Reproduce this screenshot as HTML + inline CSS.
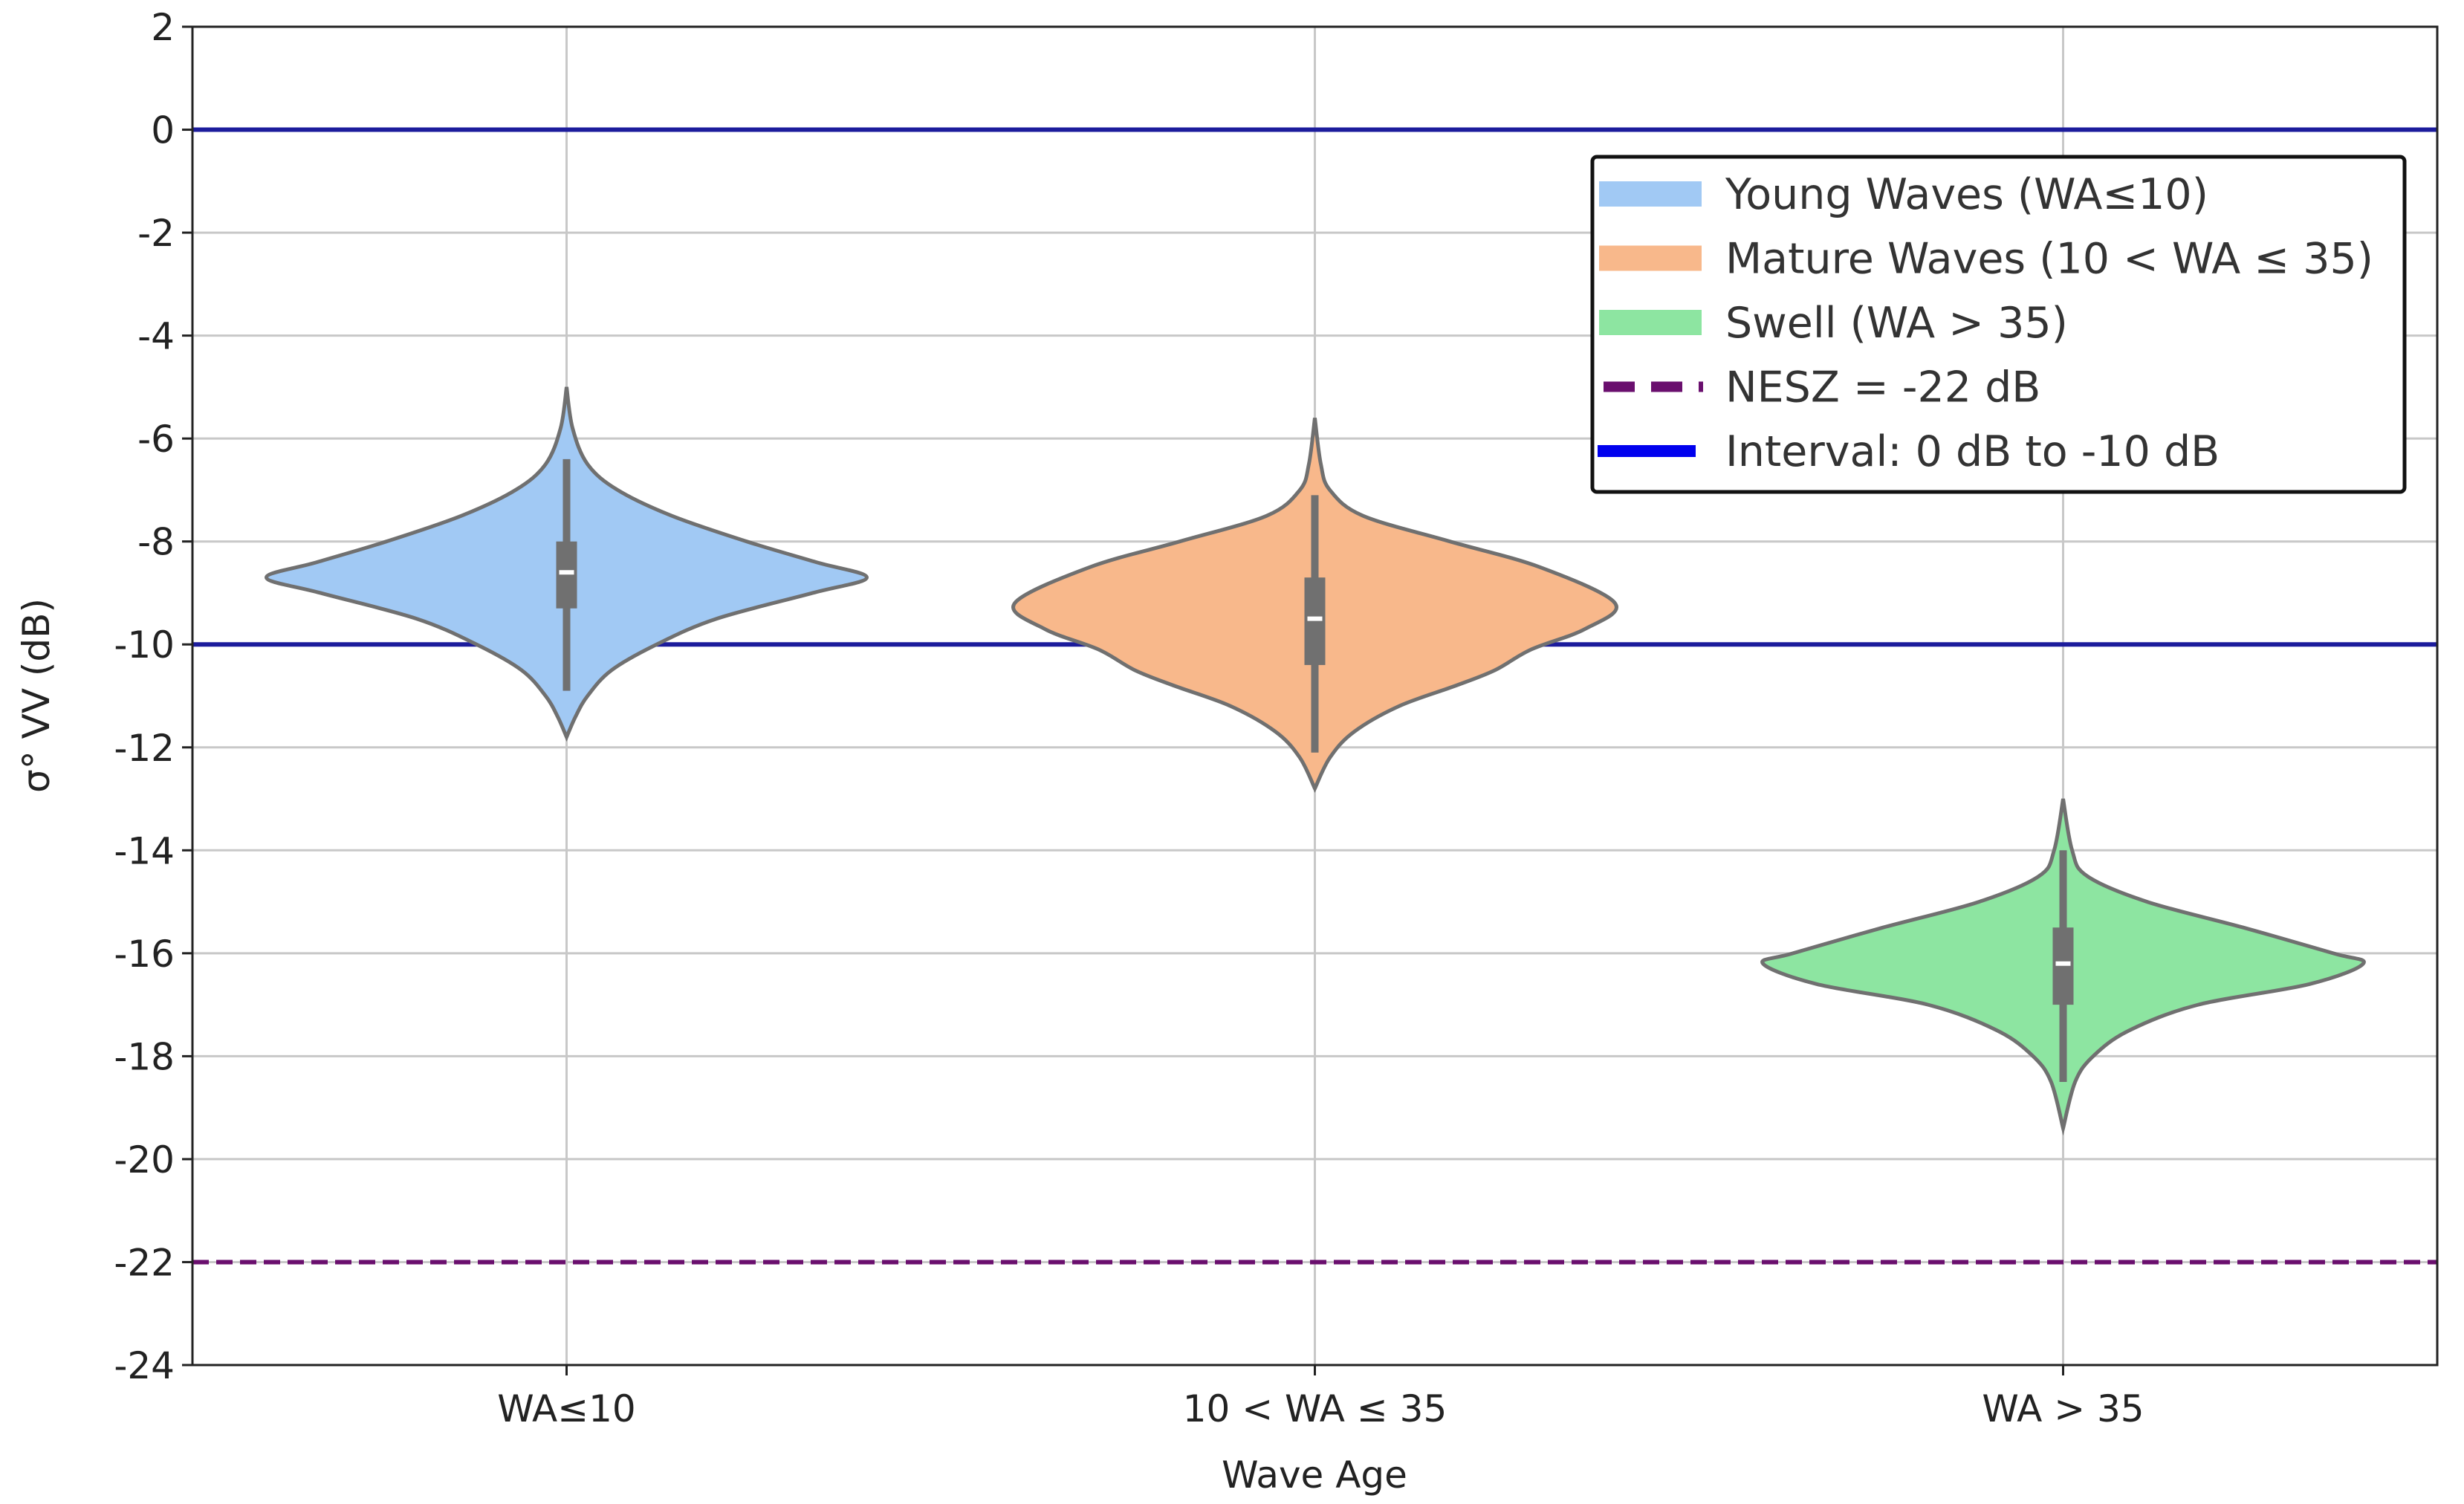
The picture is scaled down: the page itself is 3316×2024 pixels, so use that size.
<!DOCTYPE html>
<html><head><meta charset="utf-8"><style>
html,body{margin:0;padding:0;background:#fff;}
svg{display:block;font-family:"DejaVu Sans","Liberation Sans",sans-serif;}
</style></head><body>
<svg id="chart" width="3316" height="2024" viewBox="0 0 3316 2024" xmlns="http://www.w3.org/2000/svg">
<g id="grid"></g>
<g id="refs"></g>
<g id="violins"></g>
<rect x="259" y="36" width="3021" height="1801" fill="none" stroke="#222" stroke-width="3"/>
<g id="axes"></g>
<text x="1769" y="2002" font-size="50" text-anchor="middle" fill="#222">Wave Age</text>
<text transform="translate(66,936) rotate(-90)" font-size="50" text-anchor="middle" fill="#222">σ° VV (dB)</text>
<g id="legend">
<rect x="2143" y="211" width="1093" height="451" rx="6" fill="#fff" stroke="#111" stroke-width="5"/>
</g>
</svg>
<script>
const categories = ["WA≤10", "10 < WA ≤ 35", "WA > 35"];
const yTicks = [2,0,-2,-4,-6,-8,-10,-12,-14,-16,-18,-20,-22,-24];
const youngVals = [-5.0,-5.8,-6.5,-7.0,-7.5,-8.0,-8.4,-8.7,-9.0,-9.5,-10.0,-10.5,-11.0,-11.4,-11.8];
const youngDens = [0,0.02,0.07,0.17,0.35,0.6,0.83,1.0,0.82,0.5,0.3,0.15,0.07,0.03,0];
const matureVals = [-5.6,-6.5,-7.0,-7.5,-8.0,-8.5,-9.2,-9.7,-10.1,-10.5,-10.8,-11.2,-11.7,-12.2,-12.8];
const matureDens = [0,0.02,0.05,0.16,0.45,0.75,1.0,0.9,0.72,0.6,0.47,0.28,0.13,0.05,0];
const swellVals = [-13.0,-14.0,-14.5,-15.0,-15.5,-16.0,-16.2,-16.6,-17.0,-17.5,-18.0,-18.5,-19.4];
const swellDens = [0,0.03,0.08,0.28,0.6,0.9,1.0,0.82,0.45,0.22,0.1,0.04,0];
const q1 = [-8.0,-8.7,-15.5];
const q3 = [-9.3,-10.4,-17.0];
const medians = [-8.6,-9.5,-16.2];
const whiskTop = [-6.4,-7.1,-14.0];
const whiskBot = [-10.9,-12.1,-18.5];
const refLines = [0,-10];
const neszLine = -22;

const NS="http://www.w3.org/2000/svg";
const L=259,R=3280,T=36,B=1837,YMAX=2,YMIN=-24;
const yS=v=>T+(YMAX-v)/(YMAX-YMIN)*(B-T);
const band=(R-L)/categories.length;
const xS=i=>L+band*(i+0.5);
const HALF=404;
function mk(tag,attrs,parent){const e=document.createElementNS(NS,tag);for(const k in attrs)e.setAttribute(k,attrs[k]);parent.appendChild(e);return e;}
const grid=document.getElementById('grid'),axes=document.getElementById('axes'),refs=document.getElementById('refs'),vg=document.getElementById('violins'),lg=document.getElementById('legend');

yTicks.forEach(v=>{
  const y=yS(v);
  const g=mk('line',{x1:L,x2:R,y1:y,y2:y,stroke:'#c8c8c8','stroke-width':3},grid);
  
  
  const t=mk('line',{x1:L-14,x2:L,y1:y,y2:y,stroke:'#222','stroke-width':3},axes);
  
  
  const tx=mk('text',{x:L-24,y:y+18,'font-size':50,'text-anchor':'end',fill:'#222'},axes);
  tx.textContent=String(v);
  
  
});
categories.forEach((c,i)=>{
  const x=xS(i);
  const g=mk('line',{x1:x,x2:x,y1:T,y2:B,stroke:'#c8c8c8','stroke-width':3},grid);
  
  
  const t=mk('line',{x1:x,x2:x,y1:B,y2:B+14,stroke:'#222','stroke-width':3},axes);
  
  
  const tx=mk('text',{x:x,y:B+76,'font-size':50,'text-anchor':'middle',fill:'#222'},axes);
  tx.textContent=c;
  
  
});
refLines.forEach(v=>{
  const l=mk('line',{x1:L,x2:R,y1:yS(v),y2:yS(v),stroke:'#1c1c9c','stroke-width':6},refs);
  
  
});
const nl=mk('line',{x1:L,x2:R,y1:yS(neszLine),y2:yS(neszLine),stroke:'#6a0f6e','stroke-width':6,'stroke-dasharray':'22 10'},refs);



function smooth(pts){
  let d='M'+pts[0][0]+','+pts[0][1];
  for(let i=0;i<pts.length-1;i++){
    const p0=pts[Math.max(i-1,0)],p1=pts[i],p2=pts[i+1],p3=pts[Math.min(i+2,pts.length-1)];
    const c1=[p1[0]+(p2[0]-p0[0])/6,p1[1]+(p2[1]-p0[1])/6];
    const c2=[p2[0]-(p3[0]-p1[0])/6,p2[1]-(p3[1]-p1[1])/6];
    d+=' C'+c1[0]+','+c1[1]+' '+c2[0]+','+c2[1]+' '+p2[0]+','+p2[1];
  }
  return d;
}
const series=[[youngVals,youngDens,'#a1c9f4','violin-young'],[matureVals,matureDens,'#f8b88b','violin-mature'],[swellVals,swellDens,'#8de5a1','violin-swell']];
series.forEach(([vals,dens,col,name],i)=>{
  const cx=xS(i);
  const right=vals.map((v,k)=>[cx+dens[k]*HALF,yS(v)]);
  const left=vals.map((v,k)=>[cx-dens[k]*HALF,yS(v)]).reverse();
  const d=smooth(right)+' '+smooth(left).replace('M','L')+' Z';
  const p=mk('path',{d:d,fill:col,stroke:'#707070','stroke-width':5},vg);
  
  
  const w=mk('line',{x1:cx,x2:cx,y1:yS(whiskTop[i]),y2:yS(whiskBot[i]),stroke:'#707070','stroke-width':10},vg);
  
  
  const b=mk('rect',{x:cx-14,y:yS(q1[i]),width:28,height:yS(q3[i])-yS(q1[i]),fill:'#707070'},vg);
  
  
  const m=mk('line',{x1:cx-10,x2:cx+10,y1:yS(medians[i]),y2:yS(medians[i]),stroke:'#fff','stroke-width':6},vg);
  
  
});

const legItems=[['patch','#a1c9f4','Young Waves (WA≤10)'],['patch','#f8b88b','Mature Waves (10 < WA ≤ 35)'],['patch','#8de5a1','Swell (WA > 35)'],['dash','#6a0f6e','NESZ = -22 dB'],['line','#0000ee','Interval: 0 dB to -10 dB']];
legItems.forEach(([kind,col,label],k)=>{
  const y=261+k*86.5;
  let s;
  if(kind==='patch') s=mk('rect',{x:2152,y:y-17,width:138,height:34,fill:col},lg);
  else if(kind==='dash') s=mk('line',{x1:2158,x2:2292,y1:y,y2:y,stroke:col,'stroke-width':14,'stroke-dasharray':'42 22'},lg);
  else s=mk('line',{x1:2150,x2:2282,y1:y,y2:y,stroke:col,'stroke-width':16},lg);
  
  
  const t=mk('text',{x:2322,y:y+20,'font-size':57,fill:'#333'},lg);
  t.textContent=label;
  
  
});
</script>
</body></html>
